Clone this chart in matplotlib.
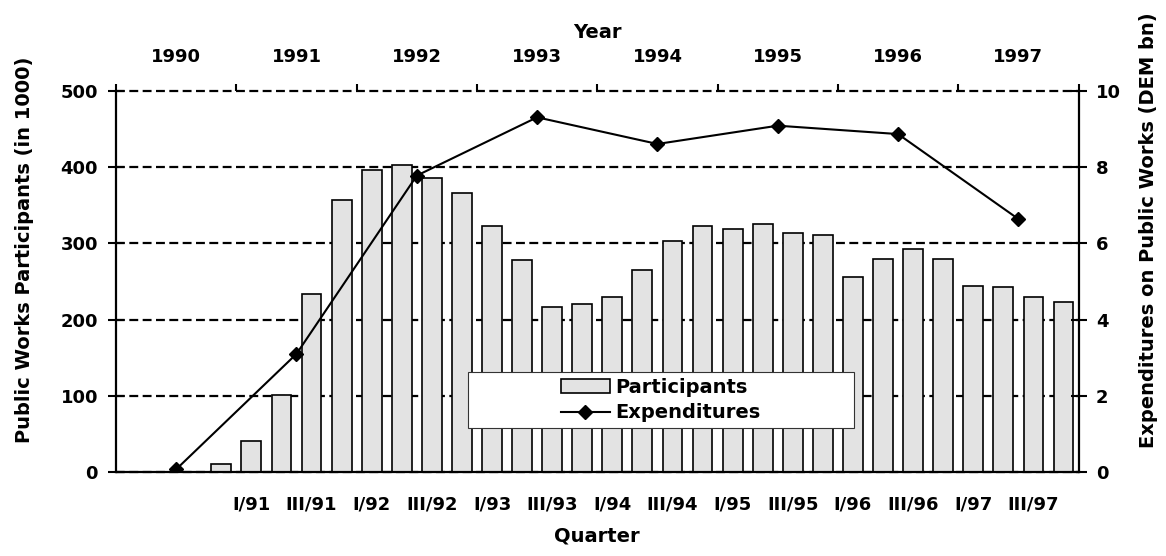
import matplotlib
matplotlib.use('Agg')
import matplotlib.pyplot as plt
from matplotlib.patches import Rectangle

# Fonte em negrito (larga como no original)
plt.rcParams['font.family'] = ['DejaVu Sans']
plt.rcParams['font.weight'] = 'bold'
plt.rcParams['axes.labelweight'] = 'bold'
plt.rcParams['axes.labelsize'] = 14
plt.rcParams['font.size'] = 13

# Dados: participantes por trimestre (IV/90 ate IV/97), em mil
quarter_pos = list(range(3, 32))  # 0 = I/90
participants = [11, 41, 101, 234, 357, 396, 403, 386, 366, 323, 278, 217, 220, 230,
                265, 303, 323, 319, 326, 314, 311, 256, 280, 293, 280, 244, 243, 230, 223]

# Gastos anuais (DEM bn), marcados no meio de cada ano
years = ['1990', '1991', '1992', '1993', '1994', '1995', '1996', '1997']
expenditures = [0.07, 3.1, 7.78, 9.31, 8.61, 9.09, 8.87, 6.64]

quarter_labels = ['I/91', 'III/91', 'I/92', 'III/92', 'I/93', 'III/93', 'I/94', 'III/94',
                  'I/95', 'III/95', 'I/96', 'III/96', 'I/97', 'III/97']
quarter_label_pos = list(range(4, 32, 2))

year_mid = [4 * i + 1.5 for i in range(len(years))]
year_edges = [4 * i - 0.5 for i in range(len(years) + 1)]

fig = plt.figure(figsize=(11.66, 5.56), dpi=100)
ax = fig.add_axes([0.0995, 0.1511, 0.8255, 0.6852])

# Barras
bars = ax.bar(quarter_pos, participants, width=0.66, color='#e3e3e3',
              edgecolor='black', linewidth=1.2, label='Participants', zorder=2)
ax.set_xlim(-0.5, 31.5)
ax.set_ylim(0, 500)
ax.set_yticks(range(0, 501, 100))
ax.set_axisbelow(True)
ax.yaxis.grid(True, color='black', linestyle=(0, (4, 2)), linewidth=1.6)
for gl in ax.get_ygridlines():
    gl.set_clip_on(False)
ax.set_xticks(quarter_label_pos, quarter_labels)
ax.tick_params(axis='x', length=0, pad=17)
ax.tick_params(axis='y', direction='inout', length=12, width=1.5, pad=7)
ax.spines['top'].set_visible(False)
ax.spines['right'].set_visible(False)
for s in ['left', 'bottom']:
    ax.spines[s].set_linewidth(1.6)
ax.set_xlabel('Quarter', labelpad=9)
ax.set_ylabel('Public Works Participants (in 1000)')
ax.yaxis.set_label_coords(-0.085, 0.583)

# Eixo de cima com os anos
sec = ax.secondary_xaxis('top')
sec.set_xticks(year_edges)
sec.set_xticklabels([])
sec.set_xticks(year_mid, years, minor=True)
sec.tick_params(which='major', direction='out', length=5, width=1.5)
sec.tick_params(which='minor', length=0, pad=18)
sec.spines['top'].set_visible(False)
sec.set_xlabel('Year', labelpad=7)

# Linha dos gastos no eixo da direita
ax2 = ax.twinx()
line, = ax2.plot(year_mid, expenditures, color='black', linewidth=1.5,
                 marker='D', markersize=7, label='Expenditures', zorder=3)
ax2.set_ylim(0, 10)
ax2.set_yticks(range(0, 11, 2))
ax2.tick_params(axis='y', direction='inout', length=11, width=1.5, pad=7)
for s in ['top', 'left', 'bottom']:
    ax2.spines[s].set_visible(False)
ax2.spines['right'].set_linewidth(1.6)
ax2.set_ylabel('Expenditures on Public Works (DEM bn)')
ax2.yaxis.set_label_coords(1.063, 0.634)

# Caixa da legenda
ax2.add_patch(Rectangle((0.366, 0.1155), 0.401, 0.147, transform=ax2.transAxes,
                        facecolor='white', edgecolor='#333333', linewidth=0.8, zorder=5))
leg = ax2.legend([bars, line], ['Participants', 'Expenditures'], loc='center',
                 bbox_to_anchor=(0.566, 0.189), frameon=False, handlelength=2.5,
                 handletextpad=0.3, labelspacing=0.35, borderpad=0, fontsize=14)
leg.set_zorder(6)

plt.savefig('out.png')
